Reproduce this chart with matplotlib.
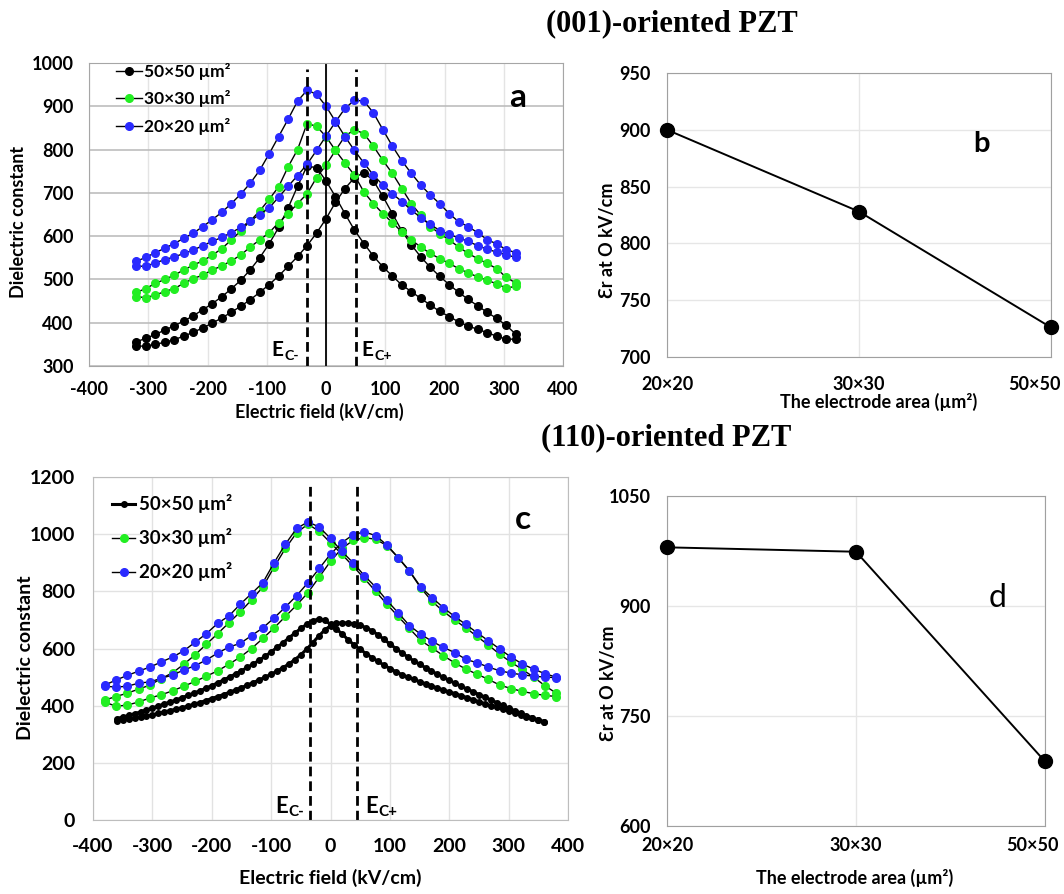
import matplotlib
matplotlib.use('Agg')
import matplotlib.pyplot as plt
import matplotlib.transforms as mtransforms

plt.rcParams['font.family'] = ['Lato', 'DejaVu Sans']
plt.rcParams['font.weight'] = 'bold'
plt.rcParams['axes.unicode_minus'] = False

# ---- panel a: (001)-oriented PZT, field sweep in kV/cm ----
field_a = [-320, -304, -288, -272, -256, -240, -224, -208, -192, -176, -160,
           -144, -128, -112, -96, -80, -64, -48, -32, -16, 0, 16, 32, 48, 64,
           80, 96, 112, 128, 144, 160, 176, 192, 208, 224, 240, 256, 272, 288,
           304, 320]

# branch peaking at E_C- and branch peaking at E_C+
a50_down = [356, 364, 373, 383, 393, 404, 416, 430, 444, 460, 478, 498, 522, 550,
            582, 620, 665, 715, 762, 758, 728, 691, 652, 614, 583, 554, 529, 508,
            487, 472, 456, 441, 426, 414, 402, 392, 385, 377, 369, 362, 362]
a50_up = [346, 346, 350, 355, 361, 369, 378, 388, 399, 411, 424, 438, 453, 470,
          488, 508, 530, 553, 578, 607, 640, 678, 710, 735, 747, 728, 692, 652,
          612, 580, 552, 528, 507, 488, 470, 454, 439, 424, 410, 394, 374]
a30_down = [470, 479, 491, 500, 510, 522, 533, 543, 556, 571, 591, 612, 635, 658,
            685, 714, 760, 800, 860, 854, 830, 798, 769, 741, 702, 675, 652, 631,
            610, 591, 575, 560, 548, 537, 525, 515, 506, 498, 490, 480, 484]
a30_up = [460, 458, 464, 472, 479, 491, 502, 510, 522, 531, 543, 556, 575, 591,
          608, 631, 652, 675, 698, 735, 764, 798, 831, 846, 837, 808, 775, 745,
          710, 675, 648, 622, 606, 591, 575, 560, 548, 537, 525, 505, 492]
a20_down = [542, 551, 562, 572, 583, 595, 607, 622, 638, 655, 675, 697, 722, 752,
            790, 830, 870, 912, 937, 928, 900, 865, 830, 798, 769, 741, 718, 698,
            680, 660, 643, 627, 613, 604, 596, 588, 578, 570, 563, 557, 551]
a20_up = [530, 531, 538, 546, 552, 560, 568, 578, 588, 597, 608, 620, 635, 650,
          665, 690, 715, 740, 766, 798, 831, 864, 895, 914, 912, 885, 846, 808,
          774, 745, 718, 695, 675, 652, 633, 622, 608, 592, 582, 569, 562]

# ---- panel c: (110)-oriented PZT ----
field_c = [-380, -361, -342, -323, -304, -285, -266, -247, -228, -209, -190,
           -171, -152, -133, -114, -95, -76, -57, -38, -19, 0, 19, 38, 57, 76,
           95, 114, 133, 152, 171, 190, 209, 228, 247, 266, 285, 304, 323, 342,
           361, 380]
c20_down = [472, 490, 506, 521, 535, 553, 570, 592, 622, 652, 688, 714, 755, 792,
            830, 900, 965, 1020, 1043, 1025, 985, 940, 900, 855, 815, 768, 725,
            680, 650, 625, 604, 586, 562, 550, 535, 522, 514, 508, 503, 500, 498]
c20_up = [468, 465, 468, 479, 483, 496, 507, 525, 540, 560, 584, 605, 618, 645,
          672, 707, 745, 785, 830, 880, 930, 970, 998, 1008, 995, 962, 918, 872,
          815, 778, 743, 712, 684, 655, 627, 598, 570, 546, 528, 512, 500]
c30_down = [420, 432, 444, 458, 472, 495, 515, 545, 578, 615, 652, 690, 728, 770,
            815, 885, 950, 1005, 1035, 1010, 970, 930, 888, 845, 800, 755, 712,
            670, 628, 602, 575, 550, 528, 510, 492, 472, 460, 450, 442, 436, 432]
c30_up = [412, 398, 402, 413, 427, 438, 452, 468, 485, 503, 522, 545, 570, 600,
          635, 672, 712, 752, 795, 850, 905, 950, 978, 988, 982, 960, 918, 870,
          812, 765, 730, 700, 672, 642, 612, 580, 552, 527, 500, 470, 444]

field_c50 = [-360, -350, -340, -330, -320, -310, -300, -290, -280, -270, -260,
             -250, -240, -230, -220, -210, -200, -190, -180, -170, -160, -150,
             -140, -130, -120, -110, -100, -90, -80, -70, -60, -50, -40, -30,
             -20, -10, 0, 10, 20, 30, 40, 50, 60, 70, 80, 90, 100, 110, 120,
             130, 140, 150, 160, 170, 180, 190, 200, 210, 220, 230, 240, 250,
             260, 270, 280, 290, 300, 310, 320, 330, 340, 350, 360]
c50_down = [355, 360, 366, 372, 378, 385, 392, 399, 406, 413, 420, 428, 436, 444,
            452, 461, 470, 480, 490, 500, 511, 522, 534, 546, 559, 573, 588, 604,
            620, 637, 654, 670, 685, 697, 703, 698, 685, 668, 650, 630, 612, 597,
            582, 568, 555, 542, 530, 519, 509, 500, 492, 484, 477, 469, 462, 455,
            448, 442, 435, 428, 421, 414, 407, 400, 394, 387, 381, 375, 369, 362,
            356, 350, 344]
c50_up = [348, 350, 353, 356, 360, 364, 368, 373, 378, 383, 388, 393, 399, 405,
          411, 418, 425, 432, 439, 447, 455, 463, 472, 481, 490, 500, 510, 521,
          533, 546, 561, 578, 598, 620, 643, 664, 680, 688, 690, 689, 686, 681,
          673, 662, 648, 632, 616, 600, 585, 571, 557, 545, 533, 521, 510, 499,
          489, 478, 468, 458, 449, 439, 430, 420, 411, 401, 392, 383, 374, 365,
          357, 349, 342]

# ---- panels b, d: permittivity at 0 kV/cm vs electrode area ----
areas = ['20×20', '30×30', '50×50']
eps0_001 = [900, 828, 726]
eps0_110 = [980, 974, 688]

sizes = ['50×50 µm²', '30×30 µm²', '20×20 µm²']
colors = ['black', '#22ee22', '#2a2aff']
ec_a = [-32, 50]
ec_c = [-34, 44]

W, H = 1064, 894
fig = plt.figure(figsize=(W / 100, H / 100), dpi=100)


def rect(l, t, r, b):
    return [l / W, 1 - b / H, (r - l) / W, (b - t) / H]


def butterfly(ax, x, branches, ms, lw):
    for (down, up), c, lab in zip(branches, colors, sizes):
        ax.plot(x, up, '-o', color='black', lw=lw, ms=ms, mfc=c, mec=c, label=lab)
        ax.plot(x, down, '-o', color='black', lw=lw, ms=ms, mfc=c, mec=c)


def coercive_label(ax, x, y, sub, size):
    ax.text(x, y, 'E', fontsize=size, ha='right', va='center')
    ax.annotate(sub, xy=(x, y), xytext=(0.5, -4), textcoords='offset points',
                fontsize=size * 0.68, ha='left', va='center')


# panel a
ax = fig.add_axes(rect(89, 63, 563, 366))
butterfly(ax, field_a, [(a50_down, a50_up), (a30_down, a30_up), (a20_down, a20_up)], 5.5, 1.0)
ax.set_xlim(-400, 400)
ax.set_ylim(300, 1000)
ax.set_xticks(range(-400, 401, 100))
ax.set_yticks(range(300, 1001, 100))
ax.grid(axis='y', color='#bdbdbd', lw=1.2)
ax.grid(axis='x', color='#e4e4e4', lw=1.0)
ax.set_axisbelow(True)
ax.axvline(0, color='black', lw=1.3)
for e in ec_a:
    ax.plot([e, e], [300, 985], color='black', lw=2, ls=(0, (3.5, 1.8)))
coercive_label(ax, -72, 337, 'C-', 15)
coercive_label(ax, 80, 337, 'C+', 15)
ax.text(0.905, 0.885, 'a', transform=ax.transAxes, fontsize=24, ha='center', va='center')
ax.legend(loc='upper left', bbox_to_anchor=(0.058, 1.0), frameon=False, fontsize=12.5,
          handlelength=1.45, handletextpad=0.15, labelspacing=0.6, borderpad=0, borderaxespad=0)
ax.tick_params(length=0, labelsize=13, pad=11)
for s in ax.spines.values():
    s.set_color('#a6a6a6')
ax.text(-0.148, 0.475, 'Dielectric constant', transform=ax.transAxes, rotation=90,
        fontsize=13, ha='center', va='center')
ax.text(0.485, -0.15, 'Electric field (kV/cm)', transform=ax.transAxes,
        fontsize=13, ha='center', va='center')

# panel c
ax = fig.add_axes(rect(93, 477, 568, 820))
ax.plot(field_c50, c50_up, '-o', color='black', lw=2.2, ms=4, label=sizes[0])
ax.plot(field_c50, c50_down, '-o', color='black', lw=2.2, ms=4)
for (down, up), c, lab in zip([(c30_down, c30_up), (c20_down, c20_up)], colors[1:], sizes[1:]):
    ax.plot(field_c, up, '-o', color='black', lw=1.0, ms=5.5, mfc=c, mec=c, label=lab)
    ax.plot(field_c, down, '-o', color='black', lw=1.0, ms=5.5, mfc=c, mec=c)
ax.set_xlim(-400, 400)
ax.set_ylim(0, 1200)
ax.set_xticks(range(-400, 401, 100))
ax.set_yticks(range(0, 1201, 200))
ax.grid(color='#e2e2e2', lw=1.0)
ax.set_axisbelow(True)
for e in ec_c:
    ax.plot([e, e], [0, 1170], color='black', lw=2, ls=(0, (3.5, 1.8)))
coercive_label(ax, -72, 48, 'C-', 16)
coercive_label(ax, 80, 48, 'C+', 16)
ax.text(0.905, 0.875, 'c', transform=ax.transAxes, fontsize=24, ha='center', va='center')
ax.legend(loc='upper left', bbox_to_anchor=(0.041, 0.95), frameon=False, fontsize=13.5,
          handlelength=1.2, handletextpad=0.2, labelspacing=0.8, borderpad=0, borderaxespad=0)
ax.tick_params(length=0, labelsize=14, pad=13)
for s in ax.spines.values():
    s.set_color('#bdbdbd')
ax.text(-0.142, 0.472, 'Dielectric constant', transform=ax.transAxes, rotation=90,
        fontsize=14, ha='center', va='center')
ax.text(0.5, -0.169, 'Electric field (kV/cm)', transform=ax.transAxes,
        fontsize=14, ha='center', va='center')


def area_panel(box, vals, ylim, yticks, tag, tagxy, tagkw, ylab_xy, xlab_xy, xpad, last_shift):
    ax = fig.add_axes(rect(*box))
    ax.plot(range(len(areas)), vals, '-o', color='black', lw=1.4, ms=10, clip_on=False, zorder=3)
    ax.set_xlim(0, len(areas) - 1)
    ax.set_ylim(*ylim)
    ax.set_xticks(range(len(areas)))
    ax.set_xticklabels(areas)
    ax.set_yticks(yticks)
    ax.grid(color='#e6e6e6', lw=1.0)
    ax.set_axisbelow(True)
    ax.tick_params(length=0, labelsize=13)
    ax.tick_params(axis='x', pad=xpad)
    ax.tick_params(axis='y', pad=12)
    # the last category label is pulled inside the picture, as in the original
    lab = ax.get_xticklabels()[-1]
    lab.set_transform(lab.get_transform() +
                      mtransforms.ScaledTranslation(last_shift / 100, 0, fig.dpi_scale_trans))
    for s in ax.spines.values():
        s.set_color('#a0a0a0')
    ax.text(tagxy[0], tagxy[1], tag, transform=ax.transAxes, ha='center', va='center', **tagkw)
    ax.text(ylab_xy[0], ylab_xy[1], 'Ɛr at O kV/cm', transform=ax.transAxes, rotation=90,
            fontsize=13, ha='center', va='center')
    ax.text(xlab_xy[0], xlab_xy[1], 'The electrode area (µm²)', transform=ax.transAxes,
            fontsize=13, ha='center', va='center')
    return ax


area_panel((667, 73, 1051, 357), eps0_001, (700, 950), range(700, 951, 50), 'b',
           (0.82, 0.75), dict(fontsize=21), (-0.155, 0.41), (0.55, -0.16), 14, -17)
area_panel((667, 496, 1045, 826), eps0_110, (600, 1050), range(600, 1051, 150), 'd',
           (0.875, 0.69), dict(fontsize=23, fontweight='normal'), (-0.155, 0.433), (0.497, -0.158), 8, -13)

fig.text(672 / W, 1 - 24 / H, '(001)-oriented PZT', family='Liberation Serif',
         fontsize=22, fontweight='bold', ha='center', va='center')
fig.text(666 / W, 1 - 438 / H, '(110)-oriented PZT', family='Liberation Serif',
         fontsize=22, fontweight='bold', ha='center', va='center')

fig.savefig('out.png', dpi=100, facecolor='white')
